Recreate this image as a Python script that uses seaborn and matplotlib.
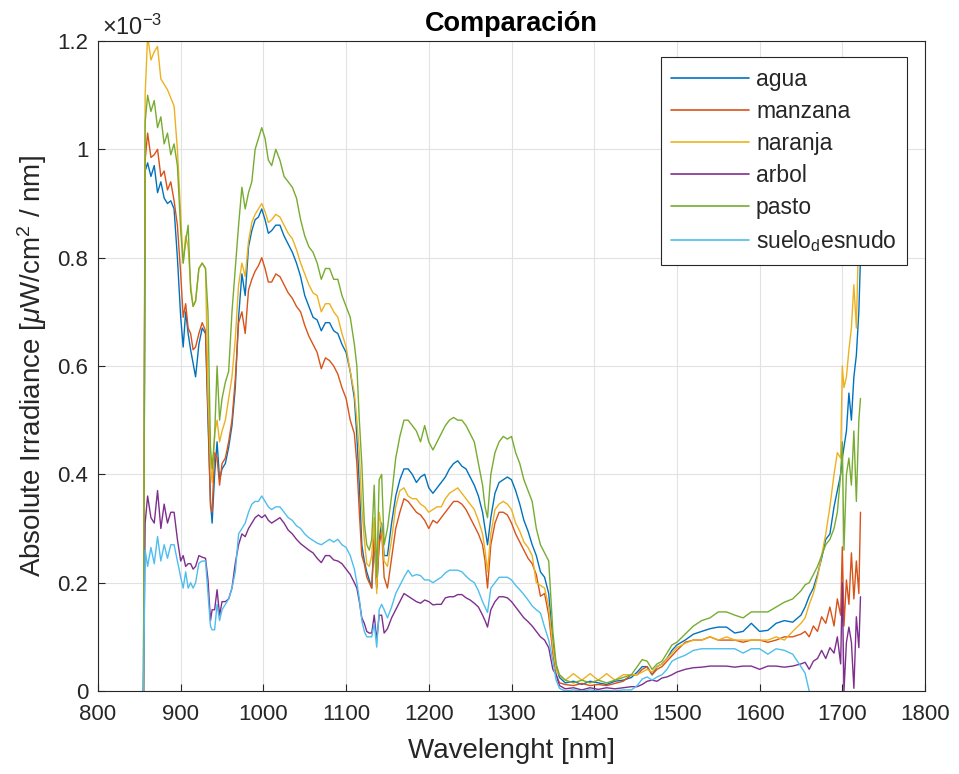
import numpy as np
import pandas as pd
import matplotlib
matplotlib.use("Agg")
import matplotlib.pyplot as plt
import seaborn as sns
from matplotlib.ticker import FuncFormatter

# ---------------- data (irradiance in units of 1e-3 uW/cm^2/nm) ----------------
wavelength = [
    855, 857, 860, 864, 868, 872, 876, 880, 884, 888, 892, 896, 900, 903, 906, 909, 912, 915, 918, 922, 926, 930, 933, 936,
    938, 941, 944, 947, 950, 954, 958, 962, 966, 970, 974, 978, 982, 986, 990, 994, 998,
    1002, 1006, 1010, 1015, 1020, 1025, 1030, 1035, 1040, 1045, 1050, 1055, 1060, 1065, 1070, 1075, 1080, 1085, 1090, 1095, 1100, 1105, 1110,
    1113, 1116, 1119, 1122, 1125, 1128, 1131, 1134, 1137, 1140, 1143, 1146, 1150, 1155, 1160,
    1165, 1170, 1175, 1180, 1185, 1190, 1195, 1200, 1205, 1210, 1215, 1220, 1225, 1230, 1235, 1240, 1245, 1250, 1255, 1260,
    1265, 1268, 1271, 1275,
    1280, 1285, 1290, 1295, 1300, 1305, 1310, 1315, 1320, 1325, 1330, 1335, 1340, 1345, 1350,
    1354, 1358, 1365, 1375, 1385, 1395, 1405, 1415, 1425, 1435, 1445, 1452, 1458, 1464, 1470, 1476, 1482, 1488, 1494, 1500,
    1510, 1520, 1530, 1540, 1550, 1560, 1570, 1580, 1590, 1600, 1610, 1620, 1630, 1640, 1650,
    1655, 1660, 1665, 1670, 1675, 1680, 1685, 1690, 1694, 1698, 1700, 1702, 1705, 1708, 1711, 1714, 1717, 1720, 1722,
]

agua = [
    0.0, 0.96, 0.975, 0.95, 0.97, 0.92, 0.94, 0.91, 0.90, 0.905, 0.89, 0.80, 0.69, 0.635, 0.70, 0.66, 0.63, 0.605, 0.58, 0.64, 0.67, 0.66, 0.50, 0.35,
    0.31, 0.40, 0.46, 0.39, 0.41, 0.42, 0.45, 0.49, 0.56, 0.69, 0.77, 0.73, 0.82, 0.85, 0.87, 0.875, 0.89,
    0.87, 0.845, 0.85, 0.86, 0.86, 0.84, 0.825, 0.81, 0.79, 0.765, 0.73, 0.71, 0.69, 0.685, 0.665, 0.68, 0.68, 0.665, 0.66, 0.64, 0.625, 0.59, 0.54,
    0.47, 0.38, 0.27, 0.24, 0.22, 0.205, 0.19, 0.28, 0.19, 0.28, 0.31, 0.25, 0.25, 0.31, 0.36,
    0.39, 0.41, 0.41, 0.40, 0.385, 0.395, 0.40, 0.375, 0.365, 0.375, 0.385, 0.395, 0.41, 0.42, 0.425, 0.415, 0.41, 0.395, 0.38, 0.36,
    0.33, 0.30, 0.27, 0.32,
    0.365, 0.385, 0.39, 0.395, 0.39, 0.37, 0.345, 0.315, 0.295, 0.27, 0.25, 0.22, 0.21, 0.18, 0.09,
    0.045, 0.025, 0.015, 0.018, 0.012, 0.018, 0.015, 0.012, 0.018, 0.02, 0.025, 0.035, 0.045, 0.045, 0.03, 0.045, 0.05, 0.06, 0.075, 0.085,
    0.094, 0.105, 0.11, 0.115, 0.118, 0.118, 0.107, 0.11, 0.125, 0.11, 0.112, 0.125, 0.13, 0.127, 0.14,
    0.155, 0.175, 0.19, 0.215, 0.245, 0.28, 0.29, 0.34, 0.37, 0.40, 0.43, 0.45, 0.48, 0.55, 0.50, 0.58, 0.62, 0.70, 0.80,
]

manzana = [
    0.0, 0.98, 1.03, 0.985, 0.99, 1.0, 0.95, 0.96, 0.925, 0.94, 0.905, 0.86, 0.77, 0.69, 0.715, 0.67, 0.66, 0.63, 0.635, 0.66, 0.68, 0.665, 0.52, 0.34,
    0.33, 0.44, 0.43, 0.38, 0.42, 0.43, 0.46, 0.50, 0.575, 0.68, 0.70, 0.66, 0.74, 0.76, 0.775, 0.785, 0.80,
    0.78, 0.755, 0.755, 0.77, 0.765, 0.75, 0.735, 0.725, 0.71, 0.70, 0.675, 0.655, 0.64, 0.625, 0.595, 0.615, 0.61, 0.60, 0.585, 0.56, 0.54, 0.50, 0.475,
    0.42, 0.33, 0.25, 0.235, 0.21, 0.20, 0.19, 0.29, 0.19, 0.27, 0.295, 0.21, 0.19, 0.245, 0.30,
    0.33, 0.355, 0.35, 0.34, 0.33, 0.325, 0.315, 0.30, 0.315, 0.31, 0.32, 0.33, 0.34, 0.35, 0.35, 0.345, 0.335, 0.32, 0.305, 0.29,
    0.27, 0.24, 0.19, 0.27,
    0.31, 0.33, 0.33, 0.325, 0.31, 0.29, 0.275, 0.26, 0.245, 0.235, 0.215, 0.175, 0.18, 0.14, 0.07,
    0.03, 0.015, 0.012, 0.01, 0.014, 0.01, 0.012, 0.01, 0.014, 0.018, 0.03, 0.03, 0.04, 0.045, 0.03, 0.04, 0.045, 0.055, 0.065, 0.075,
    0.09, 0.094, 0.094, 0.10, 0.094, 0.094, 0.094, 0.09, 0.094, 0.094, 0.09, 0.094, 0.10, 0.10, 0.105,
    0.11, 0.10, 0.12, 0.11, 0.137, 0.125, 0.155, 0.12, 0.17, 0.14, 0.266, 0.12, 0.205, 0.16, 0.255, 0.17, 0.24, 0.18, 0.33,
]

naranja = [
    0.0, 1.10, 1.21, 1.165, 1.18, 1.19, 1.13, 1.12, 1.11, 1.095, 1.08, 1.0, 0.88, 0.79, 0.84, 0.82, 0.75, 0.71, 0.72, 0.78, 0.79, 0.78, 0.55, 0.42,
    0.385, 0.475, 0.50, 0.46, 0.48, 0.50, 0.54, 0.58, 0.65, 0.75, 0.79, 0.765, 0.83, 0.865, 0.88, 0.89, 0.90,
    0.885, 0.865, 0.87, 0.88, 0.875, 0.86, 0.845, 0.835, 0.815, 0.79, 0.77, 0.75, 0.735, 0.73, 0.70, 0.715, 0.715, 0.70, 0.69, 0.66, 0.635, 0.59, 0.55,
    0.50, 0.44, 0.34, 0.28, 0.235, 0.23, 0.25, 0.32, 0.18, 0.33, 0.30, 0.24, 0.23, 0.28, 0.34,
    0.37, 0.375, 0.36, 0.355, 0.355, 0.345, 0.34, 0.33, 0.335, 0.34, 0.34, 0.355, 0.365, 0.37, 0.375, 0.365, 0.355, 0.345, 0.335, 0.315,
    0.29, 0.26, 0.22, 0.29,
    0.335, 0.345, 0.35, 0.345, 0.335, 0.31, 0.295, 0.275, 0.265, 0.25, 0.20, 0.195, 0.19, 0.155, 0.08,
    0.04, 0.03, 0.02, 0.032, 0.02, 0.032, 0.02, 0.032, 0.02, 0.03, 0.03, 0.03, 0.035, 0.04, 0.035, 0.045, 0.05, 0.06, 0.07, 0.08,
    0.088, 0.094, 0.094, 0.10, 0.094, 0.10, 0.094, 0.094, 0.094, 0.094, 0.094, 0.10, 0.094, 0.11, 0.125,
    0.135, 0.16, 0.18, 0.21, 0.25, 0.29, 0.34, 0.40, 0.44, 0.43, 0.60, 0.56, 0.58, 0.63, 0.67, 0.75, 0.67, 0.86, 0.80,
]

arbol = [
    0.0, 0.31, 0.36, 0.32, 0.31, 0.37, 0.30, 0.345, 0.31, 0.33, 0.33, 0.28, 0.24, 0.25, 0.23, 0.235, 0.235, 0.225, 0.23, 0.25, 0.247, 0.245, 0.205, 0.13,
    0.15, 0.15, 0.187, 0.14, 0.165, 0.165, 0.17, 0.19, 0.236, 0.27, 0.29, 0.285, 0.30, 0.31, 0.32, 0.325, 0.32,
    0.325, 0.315, 0.31, 0.315, 0.32, 0.31, 0.297, 0.29, 0.28, 0.272, 0.266, 0.26, 0.255, 0.245, 0.237, 0.25, 0.25, 0.242, 0.24, 0.235, 0.225, 0.215, 0.20,
    0.19, 0.165, 0.135, 0.125, 0.11, 0.107, 0.107, 0.14, 0.094, 0.14, 0.14, 0.107, 0.115, 0.135, 0.15,
    0.165, 0.18, 0.175, 0.17, 0.165, 0.162, 0.168, 0.165, 0.159, 0.16, 0.16, 0.172, 0.174, 0.174, 0.178, 0.178, 0.172, 0.168, 0.162, 0.155,
    0.14, 0.13, 0.118, 0.15,
    0.165, 0.174, 0.174, 0.172, 0.165, 0.155, 0.145, 0.135, 0.128, 0.12, 0.11, 0.10, 0.094, 0.08, 0.04,
    0.03, 0.01, 0.004, 0.006, 0.002, 0.006, 0.003, 0.006, 0.004, 0.006, 0.008, 0.008, 0.012, 0.018, 0.02, 0.018, 0.024, 0.026, 0.03, 0.035,
    0.04, 0.043, 0.044, 0.046, 0.046, 0.046, 0.044, 0.046, 0.046, 0.04, 0.046, 0.046, 0.044, 0.046, 0.05,
    0.053, 0.04, 0.055, 0.06, 0.075, 0.06, 0.08, 0.07, 0.10, 0.05, 0.20, 0.0, 0.09, 0.118, 0.09, 0.005, 0.137, 0.08, 0.174,
]

pasto = [
    0.0, 1.05, 1.10, 1.07, 1.09, 1.04, 1.06, 1.01, 1.03, 0.99, 1.01, 0.97, 0.85, 0.79, 0.83, 0.86, 0.74, 0.71, 0.72, 0.78, 0.79, 0.78, 0.70, 0.45,
    0.41, 0.47, 0.60, 0.50, 0.54, 0.57, 0.59, 0.70, 0.78, 0.86, 0.93, 0.89, 0.92, 0.94, 1.00, 1.02, 1.04,
    1.02, 0.98, 0.97, 1.00, 0.98, 0.95, 0.94, 0.93, 0.91, 0.87, 0.84, 0.82, 0.81, 0.79, 0.76, 0.78, 0.78, 0.76, 0.76, 0.73, 0.71, 0.69, 0.64,
    0.60, 0.50, 0.42, 0.31, 0.27, 0.26, 0.28, 0.38, 0.21, 0.39, 0.40, 0.27, 0.30, 0.36, 0.43,
    0.47, 0.50, 0.50, 0.49, 0.48, 0.46, 0.49, 0.46, 0.445, 0.46, 0.475, 0.49, 0.50, 0.505, 0.50, 0.50, 0.49, 0.475, 0.46, 0.42,
    0.38, 0.34, 0.32, 0.40,
    0.44, 0.46, 0.47, 0.465, 0.47, 0.44, 0.42, 0.39, 0.37, 0.35, 0.30, 0.27, 0.255, 0.24, 0.11,
    0.05, 0.03, 0.02, 0.015, 0.02, 0.015, 0.02, 0.015, 0.02, 0.025, 0.03, 0.045, 0.058, 0.055, 0.04, 0.05, 0.055, 0.07, 0.085, 0.09,
    0.105, 0.12, 0.13, 0.135, 0.146, 0.146, 0.14, 0.135, 0.146, 0.146, 0.146, 0.155, 0.164, 0.17, 0.185,
    0.196, 0.20, 0.215, 0.23, 0.25, 0.27, 0.28, 0.30, 0.33, 0.40, 0.46, 0.26, 0.40, 0.43, 0.38, 0.48, 0.35, 0.50, 0.54,
]

suelo_desnudo = [
    0.0, 0.26, 0.23, 0.265, 0.235, 0.285, 0.24, 0.27, 0.245, 0.27, 0.27, 0.24, 0.21, 0.19, 0.22, 0.19, 0.20, 0.19, 0.20, 0.236, 0.24, 0.24, 0.18, 0.12,
    0.113, 0.113, 0.16, 0.13, 0.15, 0.16, 0.17, 0.19, 0.22, 0.29, 0.30, 0.31, 0.33, 0.345, 0.35, 0.35, 0.36,
    0.35, 0.34, 0.335, 0.34, 0.34, 0.33, 0.32, 0.315, 0.305, 0.30, 0.29, 0.283, 0.278, 0.273, 0.27, 0.275, 0.28, 0.275, 0.28, 0.27, 0.265, 0.25, 0.225,
    0.20, 0.17, 0.13, 0.11, 0.10, 0.10, 0.10, 0.125, 0.081, 0.15, 0.16, 0.15, 0.135, 0.155, 0.18,
    0.195, 0.21, 0.223, 0.212, 0.215, 0.213, 0.205, 0.205, 0.20, 0.205, 0.21, 0.218, 0.223, 0.223, 0.223, 0.22, 0.212, 0.205, 0.20, 0.185,
    0.165, 0.155, 0.145, 0.19,
    0.20, 0.21, 0.21, 0.21, 0.205, 0.195, 0.187, 0.178, 0.168, 0.157, 0.15, 0.144, 0.118, 0.094, 0.055,
    0.02, 0.005, 0.0, 0.002, 0.0, 0.002, 0.0, 0.001, 0.0, 0.002, 0.002, 0.01, 0.022, 0.026, 0.02, 0.026, 0.03, 0.04, 0.055, 0.06,
    0.066, 0.075, 0.078, 0.078, 0.078, 0.078, 0.078, 0.07, 0.078, 0.078, 0.068, 0.078, 0.075, 0.068, 0.045,
    0.033, 0.0, np.nan, np.nan, np.nan, np.nan, np.nan, np.nan, np.nan, np.nan, np.nan, np.nan, np.nan, np.nan, np.nan, np.nan, np.nan, np.nan, np.nan,
]

series_names = ["agua", "manzana", "naranja", "arbol", "pasto", "suelo_desnudo"]
legend_labels = ["agua", "manzana", "naranja", "arbol", "pasto", r"suelo$_{\mathrm{d}}$esnudo"]
series_values = [agua, manzana, naranja, arbol, pasto, suelo_desnudo]
colors = ["#0072BD", "#D95319", "#EDB120", "#7E2F8E", "#77AC30", "#4DBEEE"]

frames = []
for name, vals in zip(series_names, series_values):
    frames.append(pd.DataFrame({"wl": wavelength,
                                "irr": np.array(vals, dtype=float) * 1e-3,
                                "serie": name}))
df = pd.concat(frames, ignore_index=True)

# ---------------- style ----------------
sns.set_style("white")
plt.rcParams["font.family"] = ["Liberation Sans", "DejaVu Sans"]
plt.rcParams["mathtext.fontset"] = "custom"
plt.rcParams["mathtext.rm"] = "Liberation Sans"
plt.rcParams["mathtext.it"] = "Liberation Sans:italic"
plt.rcParams["mathtext.bf"] = "Liberation Sans:bold"

fig = plt.figure(figsize=(9.59, 7.74), dpi=100)
ax = fig.add_axes([98 / 959, 1 - 691 / 774, 827 / 959, 650 / 774])

sns.lineplot(data=df, x="wl", y="irr", hue="serie", hue_order=series_names,
             palette=colors, estimator=None, sort=False, linewidth=1.0, ax=ax)

ax.set_xlim(800, 1800)
ax.set_ylim(0, 1.2e-3)
ax.set_xticks(range(800, 1801, 100))
ax.set_yticks([0, 0.2e-3, 0.4e-3, 0.6e-3, 0.8e-3, 1.0e-3, 1.2e-3])
ax.yaxis.set_major_formatter(FuncFormatter(lambda v, p: f"{v * 1e3:g}"))

ax.grid(True, color="#e2e2e2", linewidth=0.8)
ax.set_axisbelow(True)
for s in ax.spines.values():
    s.set_color("#262626")
    s.set_linewidth(0.8)
ax.tick_params(axis="both", direction="in", length=5, width=0.8, color="#262626",
               labelsize=16, labelcolor="#262626", bottom=True, left=True)
ax.tick_params(axis="x", pad=9)
ax.tick_params(axis="y", pad=7)

ax.set_xlabel("Wavelenght [nm]", fontsize=20, color="#262626", labelpad=10)
ax.set_ylabel(r"Absolute Irradiance [$\mu$W/cm$^2$ / nm]", fontsize=20, color="#262626", labelpad=6)
ax.set_title("Comparación", fontsize=19.5, fontweight="bold", color="black", pad=7)
ax.text(0.005, 1.002, r"$\times$10$^{-3}$", transform=ax.transAxes, fontsize=17,
        color="#262626", ha="left", va="bottom")

handles, _ = ax.get_legend_handles_labels()
leg = ax.legend(handles[:6], legend_labels, loc="upper right",
                bbox_to_anchor=(0.978, 0.975), borderaxespad=0, fontsize=16.5,
                frameon=True, fancybox=False, framealpha=1, edgecolor="#262626",
                handlelength=3.4, handletextpad=0.3, labelspacing=0.4, borderpad=0.45)
leg.get_frame().set_linewidth(0.8)
for h in leg.get_lines():
    h.set_linewidth(1.2)

fig.savefig("out.png", dpi=100, facecolor="white")
